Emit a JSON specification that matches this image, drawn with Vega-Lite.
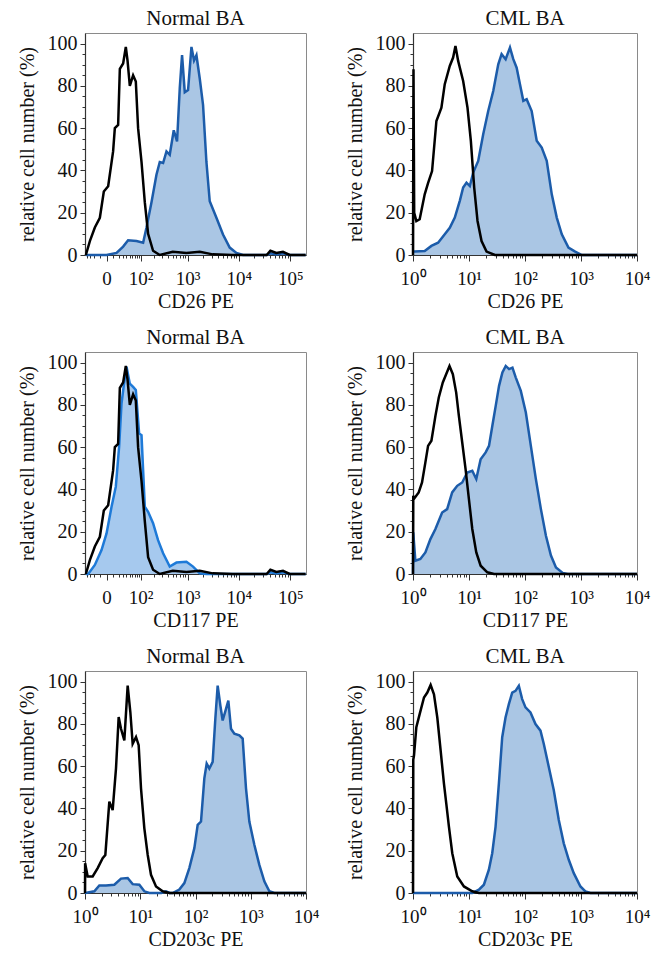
{
"$schema": "https://vega.github.io/schema/vega-lite/v6.json",
"padding": {"left": 16, "top": 7, "right": 5, "bottom": 5},
"background": "white",
"config": {
 "view": {"stroke": "#8a8a8a", "strokeWidth": 1},
 "font": "Liberation Serif",
 "title": {"font": "Liberation Serif", "fontSize": 21, "fontWeight": "normal", "offset": 4, "color": "#111"},
 "axis": {"labelFont": "Liberation Serif", "titleFont": "Liberation Serif", "titleFontWeight": "normal", "labelColor": "#111", "titleColor": "#111", "grid": false, "domainColor": "#333", "domainWidth": 1.2, "tickColor": "#333", "labelOverlap": false, "labelFlush": false},
 "axisX": {"labelFontSize": 19, "titleFontSize": 20, "tickSize": 6, "labelPadding": 8, "titlePadding": 3},
 "axisY": {"labelFontSize": 20, "titleFontSize": 20, "tickSize": 5, "labelPadding": 3, "titlePadding": 10}
},
"datasets": {
 "d1": [
  {"s":"iso","x":-42.3,"y":0},{"s":"iso","x":-30.8,"y":6.6},{"s":"iso","x":-19.1,"y":13},{"s":"iso","x":-9.7,"y":17.6},{"s":"iso","x":-3.6,"y":30},{"s":"iso","x":2.1,"y":32.5},{"s":"iso","x":9.5,"y":49},{"s":"iso","x":12.5,"y":60},{"s":"iso","x":18.9,"y":61.5},{"s":"iso","x":22.6,"y":88},{"s":"iso","x":30.6,"y":90.6},{"s":"iso","x":38,"y":98.4},{"s":"iso","x":43.2,"y":92},{"s":"iso","x":50.9,"y":80},{"s":"iso","x":63.3,"y":85},{"s":"iso","x":75,"y":82},{"s":"iso","x":86,"y":60},{"s":"iso","x":104.7,"y":44},{"s":"iso","x":125.6,"y":25},{"s":"iso","x":150,"y":10},{"s":"iso","x":194,"y":2},{"s":"iso","x":271,"y":0},{"s":"iso","x":505,"y":1.5},{"s":"iso","x":952,"y":1},{"s":"iso","x":1742,"y":1.5},{"s":"iso","x":3125,"y":0.3},{"s":"iso","x":7640,"y":0},{"s":"iso","x":34750,"y":0},{"s":"iso","x":41000,"y":2},{"s":"iso","x":53500,"y":1},{"s":"iso","x":71770,"y":1.5},{"s":"iso","x":96600,"y":0},{"s":"iso","x":196800,"y":0},
  {"s":"ab","x":-42.3,"y":0},{"s":"ab","x":0,"y":0},{"s":"ab","x":15.7,"y":1},{"s":"ab","x":30.6,"y":4},{"s":"ab","x":45.1,"y":7},{"s":"ab","x":78.2,"y":6.6},{"s":"ab","x":114.5,"y":5.8},{"s":"ab","x":137.7,"y":13},{"s":"ab","x":178.9,"y":25},{"s":"ab","x":230,"y":38},{"s":"ab","x":271,"y":44},{"s":"ab","x":319,"y":43.5},{"s":"ab","x":375,"y":49},{"s":"ab","x":438,"y":47.4},{"s":"ab","x":529,"y":59},{"s":"ab","x":617,"y":53.7},{"s":"ab","x":700,"y":79},{"s":"ab","x":778,"y":94.5},{"s":"ab","x":881,"y":77},{"s":"ab","x":1025,"y":78},{"s":"ab","x":1196,"y":98.4},{"s":"ab","x":1346,"y":92},{"s":"ab","x":1501,"y":94.5},{"s":"ab","x":1742,"y":83.5},{"s":"ab","x":2022,"y":71},{"s":"ab","x":2355,"y":44},{"s":"ab","x":2733,"y":25.4},{"s":"ab","x":3690,"y":17.6},{"s":"ab","x":4956,"y":9.7},{"s":"ab","x":6690,"y":3.5},{"s":"ab","x":9020,"y":1},{"s":"ab","x":12100,"y":0},{"s":"ab","x":34750,"y":0},{"s":"ab","x":41000,"y":0.8},{"s":"ab","x":53500,"y":0.3},{"s":"ab","x":71770,"y":0.8},{"s":"ab","x":96600,"y":0},{"s":"ab","x":196800,"y":0}
 ],
 "d2": [
  {"s":"iso","x":1.0,"y":0},{"s":"iso","x":1.02,"y":87.8},{"s":"iso","x":1.05,"y":20},{"s":"iso","x":1.147,"y":16},{"s":"iso","x":1.316,"y":16.9},{"s":"iso","x":1.618,"y":28.7},{"s":"iso","x":1.856,"y":34},{"s":"iso","x":2.19,"y":39.7},{"s":"iso","x":2.618,"y":63.4},{"s":"iso","x":3.217,"y":69.7},{"s":"iso","x":3.69,"y":80.8},{"s":"iso","x":4.536,"y":89.4},{"s":"iso","x":5.204,"y":93.4},{"s":"iso","x":5.73,"y":98.9},{"s":"iso","x":6.4,"y":91.8},{"s":"iso","x":7.863,"y":82.3},{"s":"iso","x":9.4,"y":69.7},{"s":"iso","x":10.79,"y":54},{"s":"iso","x":12.38,"y":31.9},{"s":"iso","x":14.2,"y":16.1},{"s":"iso","x":16.75,"y":6.6},{"s":"iso","x":20.57,"y":1.6},{"s":"iso","x":29,"y":0},{"s":"iso","x":10000,"y":0},
  {"s":"ab","x":1.0,"y":1.6},{"s":"ab","x":1.071,"y":1.6},{"s":"ab","x":1.618,"y":1.9},{"s":"ab","x":2.13,"y":4.3},{"s":"ab","x":2.805,"y":5.8},{"s":"ab","x":3.69,"y":9.8},{"s":"ab","x":4.536,"y":12.9},{"s":"ab","x":5.577,"y":17.7},{"s":"ab","x":6.85,"y":25.6},{"s":"ab","x":7.863,"y":31.9},{"s":"ab","x":9.02,"y":34.2},{"s":"ab","x":10.35,"y":32.6},{"s":"ab","x":11.88,"y":39},{"s":"ab","x":14.6,"y":44.5},{"s":"ab","x":17.94,"y":57.1},{"s":"ab","x":22.04,"y":68.1},{"s":"ab","x":27.1,"y":77.6},{"s":"ab","x":33.3,"y":90.2},{"s":"ab","x":38.2,"y":95},{"s":"ab","x":45.1,"y":92.6},{"s":"ab","x":53.9,"y":98.1},{"s":"ab","x":61.8,"y":92.6},{"s":"ab","x":70.9,"y":88.6},{"s":"ab","x":81.3,"y":80.8},{"s":"ab","x":93.3,"y":72.9},{"s":"ab","x":107.1,"y":73.7},{"s":"ab","x":131.6,"y":68.1},{"s":"ab","x":161.8,"y":54},{"s":"ab","x":198.9,"y":50.8},{"s":"ab","x":244.3,"y":44.5},{"s":"ab","x":300.6,"y":28.7},{"s":"ab","x":369,"y":17.7},{"s":"ab","x":454,"y":9.8},{"s":"ab","x":597,"y":3.5},{"s":"ab","x":786,"y":1.6},{"s":"ab","x":1035,"y":0},{"s":"ab","x":10000,"y":0}
 ],
 "d3": [
  {"s":"iso","x":-42.3,"y":0},{"s":"iso","x":-30.8,"y":6.6},{"s":"iso","x":-19.1,"y":13},{"s":"iso","x":-9.7,"y":17.6},{"s":"iso","x":-3.6,"y":30},{"s":"iso","x":2.1,"y":32.5},{"s":"iso","x":9.5,"y":49},{"s":"iso","x":12.5,"y":60},{"s":"iso","x":18.9,"y":61.5},{"s":"iso","x":22.6,"y":88},{"s":"iso","x":30.6,"y":90.6},{"s":"iso","x":38,"y":98.4},{"s":"iso","x":43.2,"y":92},{"s":"iso","x":50.9,"y":80},{"s":"iso","x":63.3,"y":85},{"s":"iso","x":75,"y":82},{"s":"iso","x":86,"y":60},{"s":"iso","x":104.7,"y":44},{"s":"iso","x":125.6,"y":25},{"s":"iso","x":150,"y":8},{"s":"iso","x":194,"y":2},{"s":"iso","x":271,"y":0},{"s":"iso","x":505,"y":1.5},{"s":"iso","x":952,"y":1},{"s":"iso","x":1742,"y":1.5},{"s":"iso","x":3125,"y":0.3},{"s":"iso","x":7640,"y":0},{"s":"iso","x":34750,"y":0},{"s":"iso","x":41000,"y":2},{"s":"iso","x":53500,"y":1},{"s":"iso","x":71770,"y":1.5},{"s":"iso","x":96600,"y":0},{"s":"iso","x":196800,"y":0},
  {"s":"ab","x":-42.3,"y":0},{"s":"ab","x":-35.4,"y":0},{"s":"ab","x":-19.1,"y":4.3},{"s":"ab","x":-7,"y":11.3},{"s":"ab","x":0,"y":19.2},{"s":"ab","x":7,"y":31.8},{"s":"ab","x":14.3,"y":41.3},{"s":"ab","x":21,"y":60.2},{"s":"ab","x":26.5,"y":80.6},{"s":"ab","x":32.4,"y":89.3},{"s":"ab","x":40.1,"y":98},{"s":"ab","x":50.9,"y":90},{"s":"ab","x":63.3,"y":88.5},{"s":"ab","x":75,"y":87},{"s":"ab","x":91.2,"y":66.5},{"s":"ab","x":104.7,"y":65.7},{"s":"ab","x":125.6,"y":31.8},{"s":"ab","x":150,"y":29.4},{"s":"ab","x":194,"y":24},{"s":"ab","x":249,"y":16},{"s":"ab","x":319,"y":9.8},{"s":"ab","x":438,"y":3.5},{"s":"ab","x":600,"y":5.4},{"s":"ab","x":952,"y":5.8},{"s":"ab","x":1286,"y":3.5},{"s":"ab","x":1742,"y":0.3},{"s":"ab","x":2355,"y":0},{"s":"ab","x":34750,"y":0},{"s":"ab","x":41000,"y":0.8},{"s":"ab","x":53500,"y":0.3},{"s":"ab","x":71770,"y":0.8},{"s":"ab","x":96600,"y":0},{"s":"ab","x":196800,"y":0}
 ],
 "d4": [
  {"s":"iso","x":1.0,"y":0},{"s":"iso","x":1.01,"y":37},{"s":"iso","x":1.028,"y":35.4},{"s":"iso","x":1.264,"y":38.6},{"s":"iso","x":1.45,"y":43.3},{"s":"iso","x":1.664,"y":52.8},{"s":"iso","x":1.858,"y":60.6},{"s":"iso","x":2.133,"y":63},{"s":"iso","x":2.515,"y":74.8},{"s":"iso","x":2.887,"y":83.5},{"s":"iso","x":3.406,"y":90.6},{"s":"iso","x":3.908,"y":94.5},{"s":"iso","x":4.484,"y":98.4},{"s":"iso","x":5.146,"y":94.5},{"s":"iso","x":5.906,"y":85.8},{"s":"iso","x":6.595,"y":74.8},{"s":"iso","x":7.568,"y":62.2},{"s":"iso","x":8.685,"y":49.6},{"s":"iso","x":9.966,"y":35.4},{"s":"iso","x":11.44,"y":21.3},{"s":"iso","x":13.49,"y":10.2},{"s":"iso","x":16.14,"y":3.9},{"s":"iso","x":21.25,"y":0.8},{"s":"iso","x":27.99,"y":0},{"s":"iso","x":10000,"y":0},
  {"s":"ab","x":1.0,"y":0},{"s":"ab","x":1.01,"y":19.7},{"s":"ab","x":1.101,"y":6.3},{"s":"ab","x":1.354,"y":7.1},{"s":"ab","x":1.664,"y":10.2},{"s":"ab","x":2.046,"y":16.5},{"s":"ab","x":2.515,"y":21.3},{"s":"ab","x":3.313,"y":29.1},{"s":"ab","x":4.073,"y":30.7},{"s":"ab","x":5.007,"y":38.6},{"s":"ab","x":6.155,"y":41.7},{"s":"ab","x":7.568,"y":43.3},{"s":"ab","x":9.303,"y":48},{"s":"ab","x":11.44,"y":48.8},{"s":"ab","x":13.49,"y":44.9},{"s":"ab","x":16.14,"y":54.3},{"s":"ab","x":19.84,"y":57.5},{"s":"ab","x":22.76,"y":60.6},{"s":"ab","x":26.12,"y":70.1},{"s":"ab","x":29.99,"y":79.5},{"s":"ab","x":34.4,"y":89},{"s":"ab","x":39.5,"y":95.3},{"s":"ab","x":45.3,"y":98.4},{"s":"ab","x":52,"y":96.9},{"s":"ab","x":59.7,"y":97.6},{"s":"ab","x":68.5,"y":92.9},{"s":"ab","x":84.2,"y":86.6},{"s":"ab","x":103.5,"y":76.4},{"s":"ab","x":127.2,"y":60.6},{"s":"ab","x":156.4,"y":44.9},{"s":"ab","x":192.3,"y":30.7},{"s":"ab","x":236.5,"y":18.1},{"s":"ab","x":290.6,"y":8.7},{"s":"ab","x":357.3,"y":3.1},{"s":"ab","x":470.6,"y":0.5},{"s":"ab","x":578.6,"y":0},{"s":"ab","x":10000,"y":0}
 ],
 "d5": [
  {"s":"iso","x":1.0,"y":0},{"s":"iso","x":1.005,"y":14.1},{"s":"iso","x":1.118,"y":7.8},{"s":"iso","x":1.376,"y":7.8},{"s":"iso","x":1.696,"y":11.8},{"s":"iso","x":2.088,"y":16.5},{"s":"iso","x":2.334,"y":18},{"s":"iso","x":2.757,"y":43.2},{"s":"iso","x":3.168,"y":39.2},{"s":"iso","x":3.64,"y":58.9},{"s":"iso","x":4.068,"y":83.2},{"s":"iso","x":4.483,"y":77.7},{"s":"iso","x":5.152,"y":72.2},{"s":"iso","x":5.92,"y":98.1},{"s":"iso","x":6.615,"y":85.6},{"s":"iso","x":7.291,"y":70.6},{"s":"iso","x":8.378,"y":73.8},{"s":"iso","x":9.36,"y":69.9},{"s":"iso","x":10.32,"y":49.5},{"s":"iso","x":11.86,"y":30.6},{"s":"iso","x":13.63,"y":18.1},{"s":"iso","x":15.65,"y":8.6},{"s":"iso","x":19.28,"y":3.1},{"s":"iso","x":25.45,"y":0.8},{"s":"iso","x":33.6,"y":0},{"s":"iso","x":10000,"y":0},
  {"s":"ab","x":1.0,"y":0},{"s":"ab","x":1.014,"y":0},{"s":"ab","x":1.475,"y":0.8},{"s":"ab","x":1.817,"y":3.6},{"s":"ab","x":2.399,"y":3.6},{"s":"ab","x":3.396,"y":3.9},{"s":"ab","x":4.483,"y":6.8},{"s":"ab","x":5.92,"y":7.1},{"s":"ab","x":7.291,"y":4.2},{"s":"ab","x":9.625,"y":3.9},{"s":"ab","x":11.86,"y":0.8},{"s":"ab","x":14.6,"y":0},{"s":"ab","x":24,"y":0},{"s":"ab","x":29.25,"y":0.8},{"s":"ab","x":34,"y":0},{"s":"ab","x":38.6,"y":0},{"s":"ab","x":50.98,"y":1.6},{"s":"ab","x":62.8,"y":4.7},{"s":"ab","x":77.3,"y":11.8},{"s":"ab","x":95.3,"y":21.2},{"s":"ab","x":109.5,"y":32.2},{"s":"ab","x":125.8,"y":33.8},{"s":"ab","x":144.5,"y":54.2},{"s":"ab","x":159.3,"y":61.2},{"s":"ab","x":178,"y":58.9},{"s":"ab","x":204.5,"y":62},{"s":"ab","x":228.5,"y":82.4},{"s":"ab","x":251.9,"y":98.1},{"s":"ab","x":281.6,"y":88.7},{"s":"ab","x":310.2,"y":81.6},{"s":"ab","x":356.5,"y":87.1},{"s":"ab","x":392.9,"y":91},{"s":"ab","x":439,"y":77.7},{"s":"ab","x":504.6,"y":75.4},{"s":"ab","x":621.5,"y":74.6},{"s":"ab","x":714.2,"y":73},{"s":"ab","x":820.4,"y":49.5},{"s":"ab","x":942.8,"y":33.8},{"s":"ab","x":1161,"y":22.8},{"s":"ab","x":1430,"y":13.3},{"s":"ab","x":1762,"y":5.5},{"s":"ab","x":2170,"y":0.8},{"s":"ab","x":2673,"y":0},{"s":"ab","x":10000,"y":0}
 ],
 "d6": [
  {"s":"iso","x":1.0,"y":0},{"s":"iso","x":1.01,"y":63},{"s":"iso","x":1.042,"y":65},{"s":"iso","x":1.147,"y":78.4},{"s":"iso","x":1.315,"y":84.6},{"s":"iso","x":1.571,"y":92.5},{"s":"iso","x":1.801,"y":94.8},{"s":"iso","x":2.065,"y":98.4},{"s":"iso","x":2.368,"y":94},{"s":"iso","x":2.716,"y":83},{"s":"iso","x":3.114,"y":67.4},{"s":"iso","x":3.57,"y":51.7},{"s":"iso","x":3.93,"y":42.3},{"s":"iso","x":4.385,"y":31.3},{"s":"iso","x":5.027,"y":18.8},{"s":"iso","x":6.17,"y":7.8},{"s":"iso","x":8.12,"y":3.1},{"s":"iso","x":11.43,"y":0.8},{"s":"iso","x":15.03,"y":0},{"s":"iso","x":10000,"y":0},
  {"s":"ab","x":1.0,"y":0},{"s":"ab","x":11.43,"y":0},{"s":"ab","x":15.03,"y":1.6},{"s":"ab","x":18.45,"y":3.9},{"s":"ab","x":22.65,"y":11},{"s":"ab","x":25.98,"y":18.8},{"s":"ab","x":29.79,"y":31.3},{"s":"ab","x":34.16,"y":51.7},{"s":"ab","x":39.17,"y":73.7},{"s":"ab","x":44.9,"y":83},{"s":"ab","x":51.5,"y":89.3},{"s":"ab","x":59.05,"y":94.8},{"s":"ab","x":67.7,"y":95.6},{"s":"ab","x":77.6,"y":98},{"s":"ab","x":89,"y":91.7},{"s":"ab","x":102.1,"y":87.8},{"s":"ab","x":125.3,"y":85.4},{"s":"ab","x":153.9,"y":79.9},{"s":"ab","x":189,"y":76.8},{"s":"ab","x":216.7,"y":70.5},{"s":"ab","x":266.1,"y":59.6},{"s":"ab","x":326.6,"y":48.6},{"s":"ab","x":401.1,"y":34.5},{"s":"ab","x":492.5,"y":23.5},{"s":"ab","x":604.8,"y":15.7},{"s":"ab","x":742.6,"y":9.4},{"s":"ab","x":976.4,"y":3.1},{"s":"ab","x":1199,"y":0.8},{"s":"ab","x":1472,"y":0},{"s":"ab","x":10000,"y":0}
 ]
},
"columns": 2,
"spacing": {"row": 14, "column": 24},
"concat": [
 {"title": "Normal BA", "width": 221, "height": 222, "data": {"name": "d1"},
  "resolve": {"axis": {"x": "independent", "y": "independent"}},
  "layer": [
   {"transform": [{"filter": "datum.s=='ab'"}], "mark": {"type": "area", "color": "#aac6e4"},
    "encoding": {"x": {"field": "x", "type": "quantitative", "scale": {"type": "symlog", "constant": 28, "domain": [-45, 200000], "nice": false, "zero": false}, "title": "CD26 PE", "axis": {"orient": "bottom", "values": [0, 100, 1000, 10000, 100000], "labelExpr": "datum.value == 0 ? '0' : '10' + ['⁰','¹','²','³','⁴','⁵'][round(log(datum.value)/LN10)]"}},
     "y": {"field": "y", "type": "quantitative", "scale": {"domain": [0, 105], "nice": false}, "title": "relative cell number (%)", "axis": {"orient": "left", "values": [0, 20, 40, 60, 80, 100]}}}},
   {"transform": [{"filter": "datum.s=='ab'"}], "mark": {"type": "line", "color": "#1c5caa", "strokeWidth": 2.5},
    "encoding": {"x": {"field": "x", "type": "quantitative", "scale": {"type": "symlog", "constant": 28, "domain": [-45, 200000], "nice": false, "zero": false}, "title": null, "axis": {"orient": "bottom", "values": [-40, -30, -20, -10, 10, 20, 30, 40, 50, 60, 70, 80, 90, 200, 300, 400, 500, 600, 700, 800, 900, 2000, 3000, 4000, 5000, 6000, 7000, 8000, 9000, 20000, 30000, 40000, 50000, 60000, 70000, 80000, 90000], "labels": false, "domain": false, "tickSize": 3}},
     "y": {"field": "y", "type": "quantitative", "scale": {"domain": [0, 105], "nice": false}, "title": null, "axis": {"orient": "left", "values": [5, 10, 15, 25, 30, 35, 45, 50, 55, 65, 70, 75, 85, 90, 95], "labels": false, "domain": false, "tickSize": 3}}}},
   {"transform": [{"filter": "datum.s=='iso'"}], "mark": {"type": "line", "color": "#000000", "strokeWidth": 2.5},
    "encoding": {"x": {"field": "x", "type": "quantitative", "scale": {"type": "symlog", "constant": 28, "domain": [-45, 200000], "nice": false, "zero": false}, "axis": null},
     "y": {"field": "y", "type": "quantitative", "scale": {"domain": [0, 105], "nice": false}, "axis": null}}}
  ]},
 {"title": "CML BA", "width": 224, "height": 222, "data": {"name": "d2"},
  "resolve": {"axis": {"x": "independent", "y": "independent"}},
  "layer": [
   {"transform": [{"filter": "datum.s=='ab'"}], "mark": {"type": "area", "color": "#aac6e4"},
    "encoding": {"x": {"field": "x", "type": "quantitative", "scale": {"type": "log", "domain": [1, 10000], "nice": false}, "title": "CD26 PE", "axis": {"orient": "bottom", "values": [1, 10, 100, 1000, 10000], "labelExpr": "'10' + ['⁰','¹','²','³','⁴','⁵'][round(log(datum.value)/LN10)]"}},
     "y": {"field": "y", "type": "quantitative", "scale": {"domain": [0, 105], "nice": false}, "title": "relative cell number (%)", "axis": {"orient": "left", "values": [0, 20, 40, 60, 80, 100]}}}},
   {"transform": [{"filter": "datum.s=='ab'"}], "mark": {"type": "line", "color": "#1c5caa", "strokeWidth": 2.5},
    "encoding": {"x": {"field": "x", "type": "quantitative", "scale": {"type": "log", "domain": [1, 10000], "nice": false}, "title": null, "axis": {"orient": "bottom", "values": [2, 3, 4, 5, 6, 7, 8, 9, 20, 30, 40, 50, 60, 70, 80, 90, 200, 300, 400, 500, 600, 700, 800, 900, 2000, 3000, 4000, 5000, 6000, 7000, 8000, 9000], "labels": false, "domain": false, "tickSize": 3}},
     "y": {"field": "y", "type": "quantitative", "scale": {"domain": [0, 105], "nice": false}, "title": null, "axis": {"orient": "left", "values": [5, 10, 15, 25, 30, 35, 45, 50, 55, 65, 70, 75, 85, 90, 95], "labels": false, "domain": false, "tickSize": 3}}}},
   {"transform": [{"filter": "datum.s=='iso'"}], "mark": {"type": "line", "color": "#000000", "strokeWidth": 2.5},
    "encoding": {"x": {"field": "x", "type": "quantitative", "scale": {"type": "log", "domain": [1, 10000], "nice": false}, "axis": null},
     "y": {"field": "y", "type": "quantitative", "scale": {"domain": [0, 105], "nice": false}, "axis": null}}}
  ]},
 {"title": "Normal BA", "width": 221, "height": 222, "data": {"name": "d3"},
  "resolve": {"axis": {"x": "independent", "y": "independent"}},
  "layer": [
   {"transform": [{"filter": "datum.s=='ab'"}], "mark": {"type": "area", "color": "#a6c9ee"},
    "encoding": {"x": {"field": "x", "type": "quantitative", "scale": {"type": "symlog", "constant": 28, "domain": [-45, 200000], "nice": false, "zero": false}, "title": "CD117 PE", "axis": {"orient": "bottom", "values": [0, 100, 1000, 10000, 100000], "labelExpr": "datum.value == 0 ? '0' : '10' + ['⁰','¹','²','³','⁴','⁵'][round(log(datum.value)/LN10)]"}},
     "y": {"field": "y", "type": "quantitative", "scale": {"domain": [0, 105], "nice": false}, "title": "relative cell number (%)", "axis": {"orient": "left", "values": [0, 20, 40, 60, 80, 100]}}}},
   {"transform": [{"filter": "datum.s=='ab'"}], "mark": {"type": "line", "color": "#1e7ad8", "strokeWidth": 2.5},
    "encoding": {"x": {"field": "x", "type": "quantitative", "scale": {"type": "symlog", "constant": 28, "domain": [-45, 200000], "nice": false, "zero": false}, "title": null, "axis": {"orient": "bottom", "values": [-40, -30, -20, -10, 10, 20, 30, 40, 50, 60, 70, 80, 90, 200, 300, 400, 500, 600, 700, 800, 900, 2000, 3000, 4000, 5000, 6000, 7000, 8000, 9000, 20000, 30000, 40000, 50000, 60000, 70000, 80000, 90000], "labels": false, "domain": false, "tickSize": 3}},
     "y": {"field": "y", "type": "quantitative", "scale": {"domain": [0, 105], "nice": false}, "title": null, "axis": {"orient": "left", "values": [5, 10, 15, 25, 30, 35, 45, 50, 55, 65, 70, 75, 85, 90, 95], "labels": false, "domain": false, "tickSize": 3}}}},
   {"transform": [{"filter": "datum.s=='iso'"}], "mark": {"type": "line", "color": "#000000", "strokeWidth": 2.5},
    "encoding": {"x": {"field": "x", "type": "quantitative", "scale": {"type": "symlog", "constant": 28, "domain": [-45, 200000], "nice": false, "zero": false}, "axis": null},
     "y": {"field": "y", "type": "quantitative", "scale": {"domain": [0, 105], "nice": false}, "axis": null}}}
  ]},
 {"title": "CML BA", "width": 224, "height": 222, "data": {"name": "d4"},
  "resolve": {"axis": {"x": "independent", "y": "independent"}},
  "layer": [
   {"transform": [{"filter": "datum.s=='ab'"}], "mark": {"type": "area", "color": "#aac6e4"},
    "encoding": {"x": {"field": "x", "type": "quantitative", "scale": {"type": "log", "domain": [1, 10000], "nice": false}, "title": "CD117 PE", "axis": {"orient": "bottom", "values": [1, 10, 100, 1000, 10000], "labelExpr": "'10' + ['⁰','¹','²','³','⁴','⁵'][round(log(datum.value)/LN10)]"}},
     "y": {"field": "y", "type": "quantitative", "scale": {"domain": [0, 105], "nice": false}, "title": "relative cell number (%)", "axis": {"orient": "left", "values": [0, 20, 40, 60, 80, 100]}}}},
   {"transform": [{"filter": "datum.s=='ab'"}], "mark": {"type": "line", "color": "#1c5caa", "strokeWidth": 2.5},
    "encoding": {"x": {"field": "x", "type": "quantitative", "scale": {"type": "log", "domain": [1, 10000], "nice": false}, "title": null, "axis": {"orient": "bottom", "values": [2, 3, 4, 5, 6, 7, 8, 9, 20, 30, 40, 50, 60, 70, 80, 90, 200, 300, 400, 500, 600, 700, 800, 900, 2000, 3000, 4000, 5000, 6000, 7000, 8000, 9000], "labels": false, "domain": false, "tickSize": 3}},
     "y": {"field": "y", "type": "quantitative", "scale": {"domain": [0, 105], "nice": false}, "title": null, "axis": {"orient": "left", "values": [5, 10, 15, 25, 30, 35, 45, 50, 55, 65, 70, 75, 85, 90, 95], "labels": false, "domain": false, "tickSize": 3}}}},
   {"transform": [{"filter": "datum.s=='iso'"}], "mark": {"type": "line", "color": "#000000", "strokeWidth": 2.5},
    "encoding": {"x": {"field": "x", "type": "quantitative", "scale": {"type": "log", "domain": [1, 10000], "nice": false}, "axis": null},
     "y": {"field": "y", "type": "quantitative", "scale": {"domain": [0, 105], "nice": false}, "axis": null}}}
  ]},
 {"title": "Normal BA", "width": 221, "height": 222, "data": {"name": "d5"},
  "resolve": {"axis": {"x": "independent", "y": "independent"}},
  "layer": [
   {"transform": [{"filter": "datum.s=='ab'"}], "mark": {"type": "area", "color": "#aac6e4"},
    "encoding": {"x": {"field": "x", "type": "quantitative", "scale": {"type": "log", "domain": [1, 10000], "nice": false}, "title": "CD203c PE", "axis": {"orient": "bottom", "values": [1, 10, 100, 1000, 10000], "labelExpr": "'10' + ['⁰','¹','²','³','⁴','⁵'][round(log(datum.value)/LN10)]"}},
     "y": {"field": "y", "type": "quantitative", "scale": {"domain": [0, 105], "nice": false}, "title": "relative cell number (%)", "axis": {"orient": "left", "values": [0, 20, 40, 60, 80, 100]}}}},
   {"transform": [{"filter": "datum.s=='ab'"}], "mark": {"type": "line", "color": "#1c5caa", "strokeWidth": 2.5},
    "encoding": {"x": {"field": "x", "type": "quantitative", "scale": {"type": "log", "domain": [1, 10000], "nice": false}, "title": null, "axis": {"orient": "bottom", "values": [2, 3, 4, 5, 6, 7, 8, 9, 20, 30, 40, 50, 60, 70, 80, 90, 200, 300, 400, 500, 600, 700, 800, 900, 2000, 3000, 4000, 5000, 6000, 7000, 8000, 9000], "labels": false, "domain": false, "tickSize": 3}},
     "y": {"field": "y", "type": "quantitative", "scale": {"domain": [0, 105], "nice": false}, "title": null, "axis": {"orient": "left", "values": [5, 10, 15, 25, 30, 35, 45, 50, 55, 65, 70, 75, 85, 90, 95], "labels": false, "domain": false, "tickSize": 3}}}},
   {"transform": [{"filter": "datum.s=='iso'"}], "mark": {"type": "line", "color": "#000000", "strokeWidth": 2.5},
    "encoding": {"x": {"field": "x", "type": "quantitative", "scale": {"type": "log", "domain": [1, 10000], "nice": false}, "axis": null},
     "y": {"field": "y", "type": "quantitative", "scale": {"domain": [0, 105], "nice": false}, "axis": null}}}
  ]},
 {"title": "CML BA", "width": 224, "height": 222, "data": {"name": "d6"},
  "resolve": {"axis": {"x": "independent", "y": "independent"}},
  "layer": [
   {"transform": [{"filter": "datum.s=='ab'"}], "mark": {"type": "area", "color": "#aac6e4"},
    "encoding": {"x": {"field": "x", "type": "quantitative", "scale": {"type": "log", "domain": [1, 10000], "nice": false}, "title": "CD203c PE", "axis": {"orient": "bottom", "values": [1, 10, 100, 1000, 10000], "labelExpr": "'10' + ['⁰','¹','²','³','⁴','⁵'][round(log(datum.value)/LN10)]"}},
     "y": {"field": "y", "type": "quantitative", "scale": {"domain": [0, 105], "nice": false}, "title": "relative cell number (%)", "axis": {"orient": "left", "values": [0, 20, 40, 60, 80, 100]}}}},
   {"transform": [{"filter": "datum.s=='ab'"}], "mark": {"type": "line", "color": "#1c5caa", "strokeWidth": 2.5},
    "encoding": {"x": {"field": "x", "type": "quantitative", "scale": {"type": "log", "domain": [1, 10000], "nice": false}, "title": null, "axis": {"orient": "bottom", "values": [2, 3, 4, 5, 6, 7, 8, 9, 20, 30, 40, 50, 60, 70, 80, 90, 200, 300, 400, 500, 600, 700, 800, 900, 2000, 3000, 4000, 5000, 6000, 7000, 8000, 9000], "labels": false, "domain": false, "tickSize": 3}},
     "y": {"field": "y", "type": "quantitative", "scale": {"domain": [0, 105], "nice": false}, "title": null, "axis": {"orient": "left", "values": [5, 10, 15, 25, 30, 35, 45, 50, 55, 65, 70, 75, 85, 90, 95], "labels": false, "domain": false, "tickSize": 3}}}},
   {"transform": [{"filter": "datum.s=='iso'"}], "mark": {"type": "line", "color": "#000000", "strokeWidth": 2.5},
    "encoding": {"x": {"field": "x", "type": "quantitative", "scale": {"type": "log", "domain": [1, 10000], "nice": false}, "axis": null},
     "y": {"field": "y", "type": "quantitative", "scale": {"domain": [0, 105], "nice": false}, "axis": null}}}
  ]}
]
}
